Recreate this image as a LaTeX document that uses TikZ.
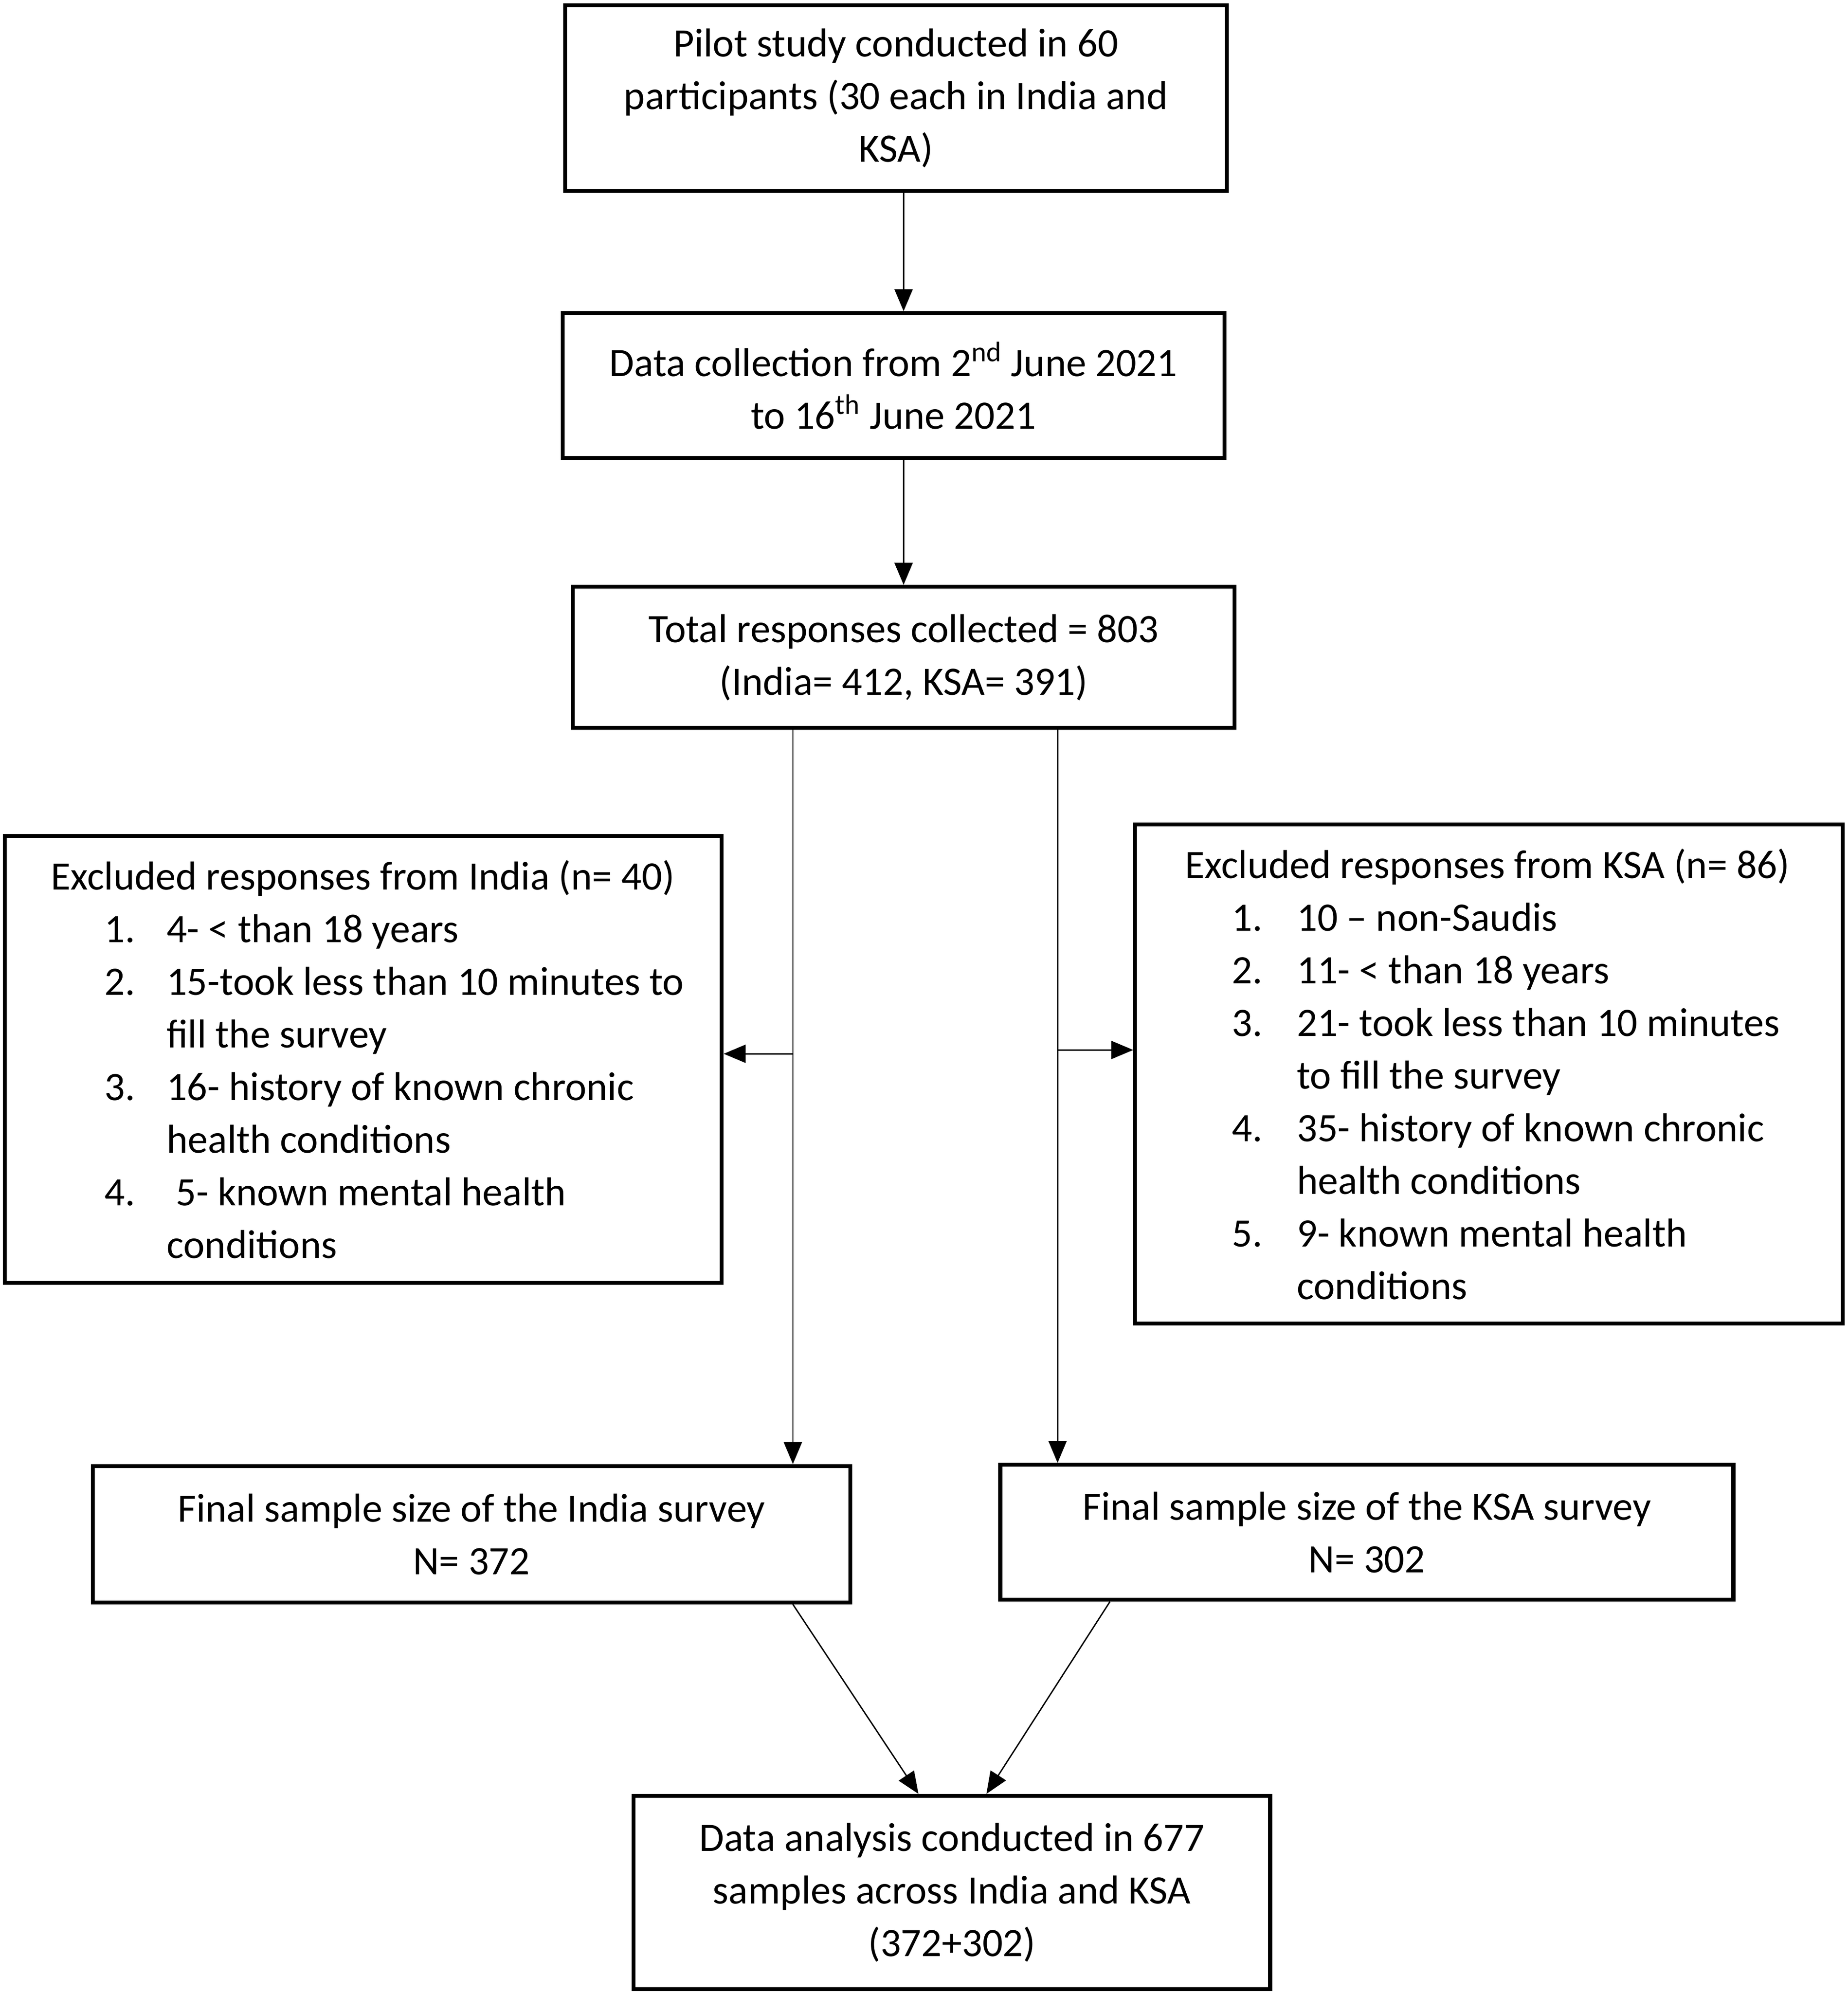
\documentclass[tikz,border=0pt]{standalone}
\usepackage{fontspec}
\setmainfont{Carlito}
\usetikzlibrary{arrows.meta}

\newlength{\numskip}
\newlength{\txtskip}
\newcommand{\exline}[2]{\mbox{\hspace*{\numskip}\makebox[\txtskip][l]{#1}#2}}

\tikzset{
	box/.style={draw, line width=2.3pt, align=center, inner sep=0pt, font=\fontsize{24}{31.3}\selectfont},
	listbox/.style={draw, line width=2.3pt, align=left, inner ysep=0pt, font=\fontsize{24}{31.3}\selectfont},
	arr/.style={-{Triangle[length=0.46cm,width=0.38cm]}, line width=0.8pt},
}

\begin{document}
\begin{tikzpicture}[x=0.0266cm, y=-0.0266cm]
	\useasboundingbox (0,0) rectangle (1452,1566);
	
	%%%%% BOXES %%%%%
	\node[box, minimum width=13.83cm, minimum height=3.88cm] (pilot) at (704,77)
		{Pilot study conducted in 60\\participants (30 each in India and\\KSA)};
	\node[box, minimum width=13.83cm, minimum height=3.03cm] (collect) at (702,303)
		{Data collection from 2\textsuperscript{nd} June 2021\\to 16\textsuperscript{th} June 2021};
	\node[box, minimum width=13.83cm, minimum height=2.95cm] (total) at (710,516.5)
		{Total responses collected = 803\\(India= 412, KSA= 391)};
	
	\node[listbox, inner xsep=0.96cm, text width=13.06cm, minimum height=9.34cm] (exind) at (285.5,832.5)
		{\spaceskip=0pt\xspaceskip=0pt\setlength{\numskip}{1.12cm}\setlength{\txtskip}{1.30cm}%
		\mbox{Excluded responses from India (n= 40)}\\
		\exline{1.}{4- < than 18 years}\\
		\exline{2.}{15-took less than 10 minutes to}\\
		\exline{}{fill the survey}\\
		\exline{3.}{16- history of known chronic}\\
		\exline{}{health conditions}\\
		\exline{4.}{\ 5- known mental health}\\
		\exline{}{conditions}};
	\node[listbox, inner xsep=1.04cm, text width=12.71cm, minimum height=10.43cm] (exksa) at (1170,844)
		{\spaceskip=0pt\xspaceskip=0pt\setlength{\numskip}{0.98cm}\setlength{\txtskip}{1.36cm}%
		\mbox{Excluded responses from KSA (n= 86)}\\
		\exline{1.}{10 -- non-Saudis}\\
		\exline{2.}{11- < than 18 years}\\
		\exline{3.}{21- took less than 10 minutes}\\
		\exline{}{to fill the survey}\\
		\exline{4.}{35- history of known chronic}\\
		\exline{}{health conditions}\\
		\exline{5.}{9- known mental health}\\
		\exline{}{conditions}};
	
	\node[box, minimum width=15.83cm, minimum height=2.85cm] (finind) at (370.5,1205.5)
		{Final sample size of the India survey\\N= 372};
	\node[box, minimum width=15.32cm, minimum height=2.82cm] (finksa) at (1074,1204)
		{Final sample size of the KSA survey\\N= 302};
	\node[box, minimum width=13.3cm, minimum height=4.04cm] (analysis) at (748,1487)
		{Data analysis conducted in 677\\samples across India and KSA\\(372+302)};
	
	%%%%% ARROWS %%%%%
	\coordinate (splitL) at (623,828);
	\coordinate (splitR) at (831,825);
	
	\draw[arr] (pilot.south -| total.north) -- (collect.north -| total.north);
	\draw[arr] (collect.south -| total.north) -- (total.north);
	
	\draw[arr] (total.south -| splitL) -- (finind.north -| splitL);
	\draw[arr] (splitL) -- (exind.east |- splitL);
	\draw[arr] (total.south -| splitR) -- (finksa.north -| splitR);
	\draw[arr] (splitR) -- (exksa.west |- splitR);
	
	\draw[arr] (finind.south -| splitL) -- ([xshift=-0.7cm]analysis.north);
	\draw[arr] ([xshift=-5.37cm]finksa.south) -- ([xshift=0.72cm]analysis.north);
\end{tikzpicture}
\end{document}
